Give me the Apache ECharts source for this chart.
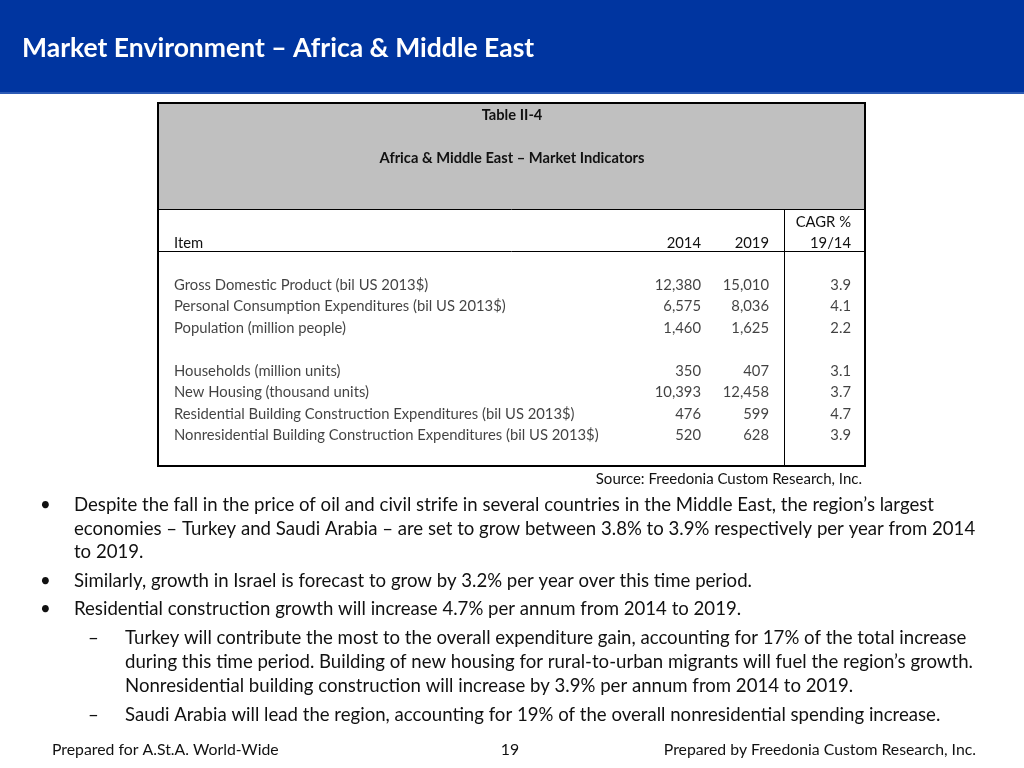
<!DOCTYPE html>
<html><head><meta charset="utf-8">
<script src="https://cdn.jsdelivr.net/npm/echarts@6/dist/echarts.min.js"></script>
<style>html,body{margin:0;padding:0;background:#fff}#c{width:1024px;height:768px}</style>
</head><body><div id="c"></div>
<script>
const slideTitle = 'Market Environment – Africa & Middle East';
const tableNumber = 'Table II-4';
const tableTitle = 'Africa & Middle East – Market Indicators';
const colHeaders = ['Item', '2014', '2019', '19/14'];
const cagrHeader = 'CAGR %';
const rowLabels = [
  'Gross Domestic Product (bil US 2013$)',
  'Personal Consumption Expenditures (bil US 2013$)',
  'Population (million people)',
  '',
  'Households (million units)',
  'New Housing (thousand units)',
  'Residential Building Construction Expenditures (bil US 2013$)',
  'Nonresidential Building Construction Expenditures (bil US 2013$)'
];
const values2014 = [12380, 6575, 1460, null, 350, 10393, 476, 520];
const values2019 = [15010, 8036, 1625, null, 407, 12458, 599, 628];
const cagr = [3.9, 4.1, 2.2, null, 3.1, 3.7, 4.7, 3.9];
const sourceNote = 'Source: Freedonia Custom Research, Inc.';
const bulletLines = [
  ['•', 'Despite the fall in the price of oil and civil strife in several countries in the Middle East, the region’s largest'],
  ['', 'economies – Turkey and Saudi Arabia – are set to grow between 3.8% to 3.9% respectively per year from 2014'],
  ['', 'to 2019.'],
  ['•', 'Similarly, growth in Israel is forecast to grow by 3.2% per year over this time period.'],
  ['•', 'Residential construction growth will increase 4.7% per annum from 2014 to 2019.']
];
const subLines = [
  ['–', 'Turkey will contribute the most to the overall expenditure gain, accounting for 17% of the total increase'],
  ['', 'during this time period. Building of new housing for rural-to-urban migrants will fuel the region’s growth.'],
  ['', 'Nonresidential building construction will increase by 3.9% per annum from 2014 to 2019.'],
  ['–', 'Saudi Arabia will lead the region, accounting for 19% of the overall nonresidential spending increase.']
];
const footerLeft = 'Prepared for A.St.A. World-Wide';
const footerPage = '19';
const footerRight = 'Prepared by Freedonia Custom Research, Inc.';

const FONT = 'Lato';
const INK = '#111111';
const chart = echarts.init(document.getElementById('c'), null, {renderer: 'canvas'});

function txt(text, x, y, size, opts) {
  opts = opts || {};
  return {type: 'text', x: x, y: y + 1, z: 10, style: {
    text: text, font: (opts.bold ? 'bold ' : '') + size + 'px ' + FONT,
    fill: opts.fill || INK, textAlign: opts.align || 'left', textVerticalAlign: 'middle'}};
}

const graphics = [];
graphics.push({type: 'rect', shape: {x: 0, y: 0, width: 1024, height: 94}, style: {fill: '#0035A0'}, z: 1});
graphics.push({type: 'rect', shape: {x: 0, y: 92, width: 1024, height: 2}, style: {fill: '#2D5BB5'}, z: 2});
graphics.push(txt(slideTitle, 22, 47, 26.5, {bold: true, fill: '#ffffff'}));
// table frame
graphics.push({type: 'rect', shape: {x: 158, y: 103, width: 707, height: 106}, style: {fill: '#C0C0C0'}, z: 1});
graphics.push({type: 'rect', shape: {x: 158, y: 103, width: 707, height: 363}, style: {fill: 'none', stroke: '#000', lineWidth: 2}, z: 5});
graphics.push({type: 'line', shape: {x1: 158, y1: 209.5, x2: 865, y2: 209.5}, style: {stroke: '#000', lineWidth: 1}, z: 5});
graphics.push({type: 'line', shape: {x1: 158, y1: 251.5, x2: 865, y2: 251.5}, style: {stroke: '#000', lineWidth: 1}, z: 5});
graphics.push({type: 'line', shape: {x1: 784.5, y1: 209, x2: 784.5, y2: 466}, style: {stroke: '#000', lineWidth: 1}, z: 5});
graphics.push(txt(tableNumber, 512, 114, 14.7, {bold: true, align: 'center'}));
graphics.push(txt(tableTitle, 512, 157, 14.7, {bold: true, align: 'center'}));
graphics.push(txt(cagrHeader, 851, 221, 14.8, {align: 'right'}));
graphics.push(txt(colHeaders[0], 174, 242, 14.8));
graphics.push(txt(colHeaders[1], 701, 242, 14.8, {align: 'right'}));
graphics.push(txt(colHeaders[2], 769, 242, 14.8, {align: 'right'}));
graphics.push(txt(colHeaders[3], 851, 242, 14.8, {align: 'right'}));
graphics.push(txt(sourceNote, 862, 478, 15, {align: 'right'}));
const bulletY = [504, 528, 551, 580, 608];
bulletLines.forEach((b, i) => {
  if (b[0]) graphics.push(txt(b[0], 40, bulletY[i], 18.6));
  graphics.push(txt(b[1], 74, bulletY[i], 18.6));
});
const subY = [637, 661, 685, 714];
subLines.forEach((b, i) => {
  if (b[0]) graphics.push(txt(b[0], 88, subY[i], 18.6));
  graphics.push(txt(b[1], 125, subY[i], 18.6));
});
graphics.push(txt(footerLeft, 52, 749, 15.8));
graphics.push(txt(footerPage, 510, 749, 15.8, {align: 'center'}));
graphics.push(txt(footerRight, 976, 749, 15.8, {align: 'right'}));

// table body: one grid per column, rows on a category axis
const rowIdx = rowLabels.map((_, i) => String(i));
const colGrids = [
  {left: 174, width: 10},
  {left: 691, width: 10},
  {left: 759, width: 10},
  {left: 841, width: 10}
];
const grids = colGrids.map(g => ({left: g.left, width: g.width, top: 274.5, height: 171.5}));
const xAxes = grids.map((_, i) => ({type: 'value', gridIndex: i, min: 0, max: 1, show: false}));
const yAxes = grids.map((_, i) => ({type: 'category', gridIndex: i, data: rowIdx, inverse: true, show: false}));
const fmtInt = v => v.toLocaleString('en-US');
const fmtDec = v => v.toFixed(1);
function colSeries(idx, arr, fmt, atRight) {
  const data = [];
  arr.forEach((v, i) => { if (v !== null && v !== '') data.push({value: [atRight ? 1 : 0, i], raw: v}); });
  return {
    type: 'scatter', xAxisIndex: idx, yAxisIndex: idx, symbolSize: 0, silent: true, data: data,
    label: {show: true, position: atRight ? 'left' : 'right', distance: 0,
      formatter: p => fmt(p.data.raw), fontFamily: FONT, fontSize: 14.8, color: INK}
  };
}
chart.setOption({
  animation: false,
  grid: grids, xAxis: xAxes, yAxis: yAxes,
  graphic: graphics,
  series: [
    colSeries(0, rowLabels, v => v, false),
    colSeries(1, values2014, fmtInt, true),
    colSeries(2, values2019, fmtInt, true),
    colSeries(3, cagr, fmtDec, true)
  ]
});
</script></body></html>
